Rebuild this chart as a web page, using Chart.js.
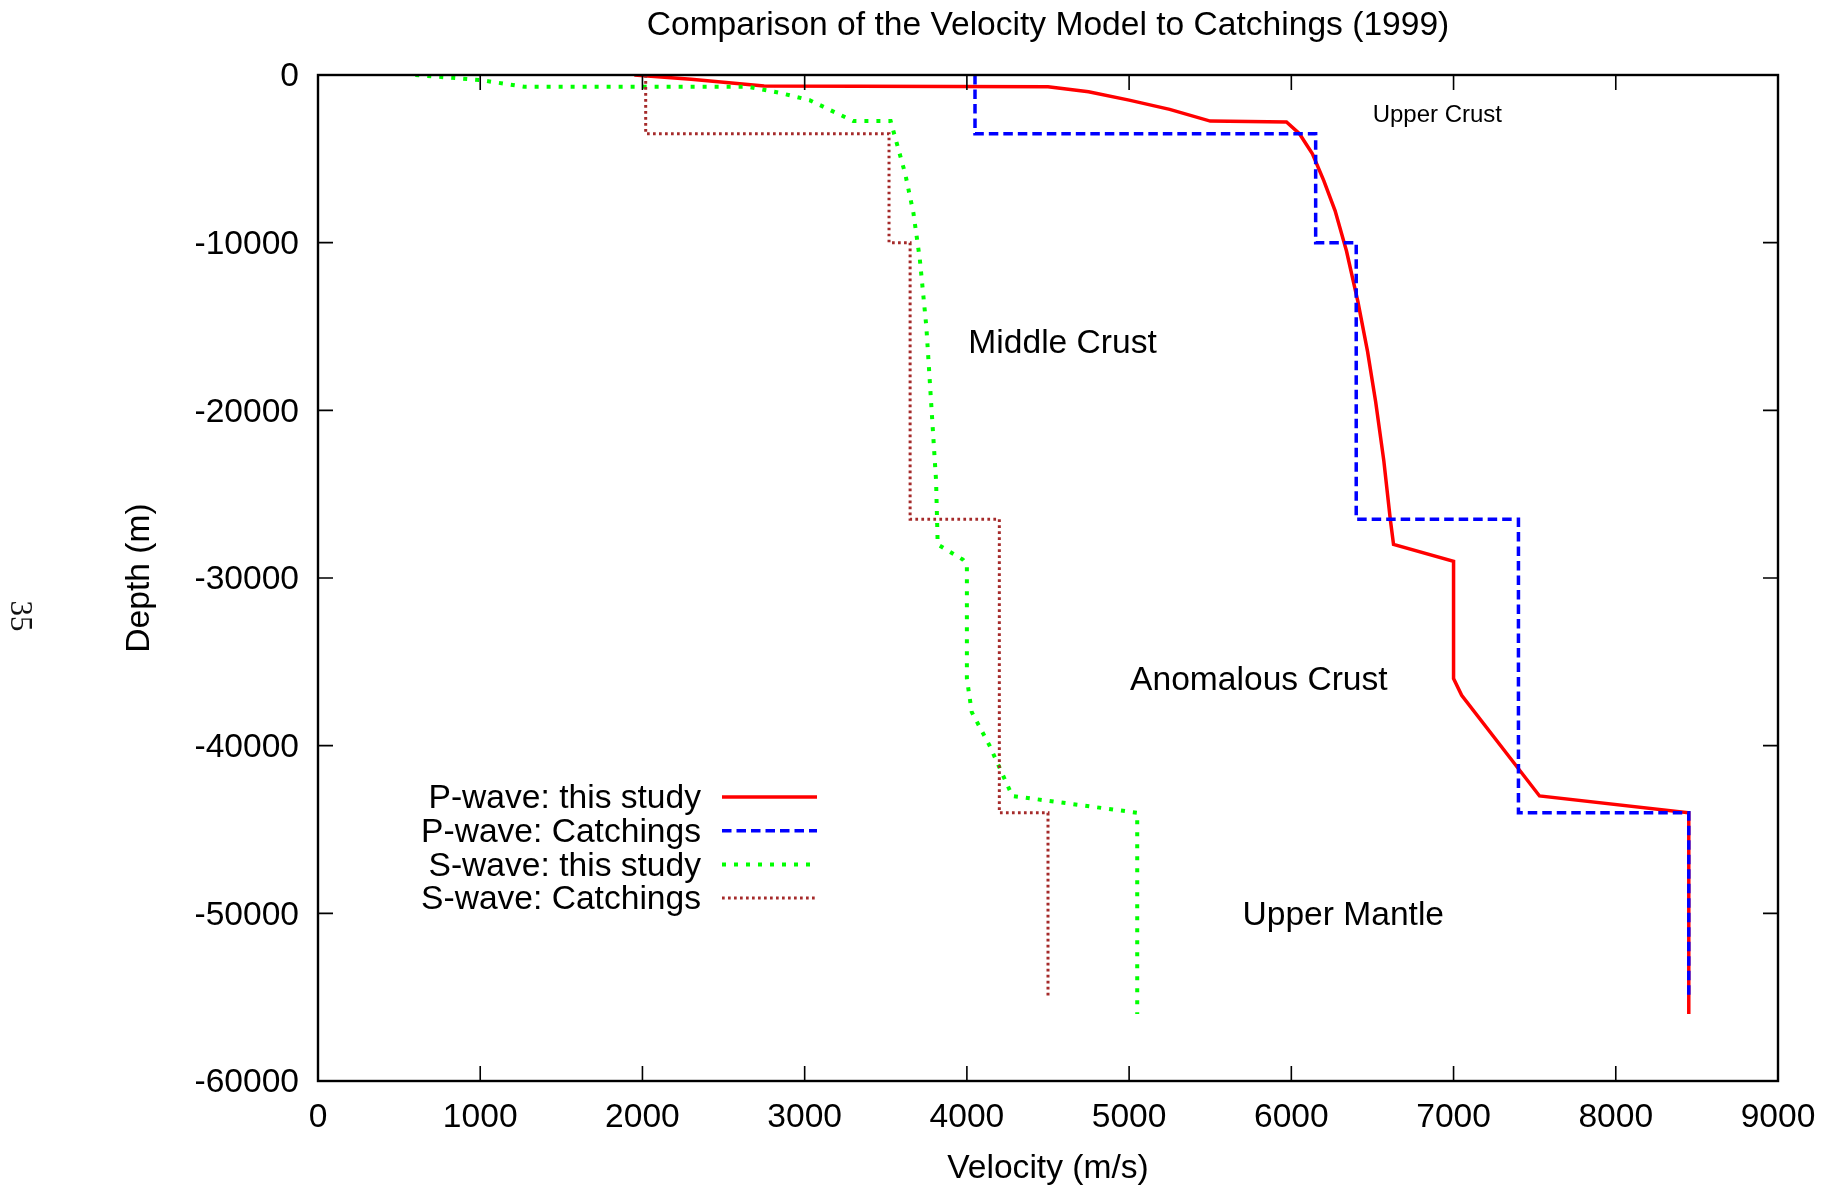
<!DOCTYPE html>
<html>
<head>
<meta charset="utf-8">
<title>Velocity Model vs Catchings (1999)</title>
<script src="https://cdn.jsdelivr.net/npm/chart.js@4.4.1/dist/chart.umd.min.js"></script>
<style>
  html, body { margin:0; padding:0; background:#fff; }
</style>
</head>
<body>
<canvas id="velC" width="1838" height="1189"></canvas>
<script>
// velocity (m/s) against depth (m) for each profile
const pStudyVel = [1950, 2300, 2750, 4500, 4750, 5000, 5250, 5500, 5970, 6050, 6130, 6200, 6270, 6340, 6410, 6470, 6520, 6570, 6610, 6630, 7000, 7000, 7050, 7530, 8450, 8450];
const pStudyDep = [0, -250, -650, -700, -1000, -1500, -2050, -2750, -2800, -3500, -4700, -6300, -8100, -10500, -13500, -16500, -19500, -23000, -26500, -28000, -29000, -36000, -37000, -43000, -44000, -56000];

const pCatchVel = [4050, 4050, 6150, 6150, 6400, 6400, 7400, 7400, 8450, 8450];
const pCatchDep = [0, -3500, -3500, -10000, -10000, -26500, -26500, -44000, -44000, -55000];

const sStudyVel = [600, 1000, 1270, 2650, 2840, 3030, 3300, 3530, 3620, 3670, 3710, 3750, 3780, 3810, 3820, 3975, 4000, 4000, 4030, 4140, 4210, 4280, 5050, 5050];
const sStudyDep = [0, -300, -700, -700, -1050, -1500, -2750, -2750, -5900, -8200, -11000, -15000, -19600, -24200, -28000, -28900, -29200, -36000, -38000, -40000, -41500, -43000, -44000, -56000];

const sCatchVel = [2020, 2020, 3520, 3520, 3650, 3650, 4200, 4200, 4500, 4500];
const sCatchDep = [0, -3500, -3500, -10000, -10000, -26500, -26500, -44000, -44000, -55000];

const seriesNames = ['P-wave: this study', 'P-wave: Catchings', 'S-wave: this study', 'S-wave: Catchings'];

// layer names and where they sit (velocity, depth)
const regionNames = ['Upper Crust', 'Middle Crust', 'Anomalous Crust', 'Upper Mantle'];
const regionVel = [6900, 4590, 5800, 6320];
const regionDep = [-2300, -15900, -36000, -50000];

const xTicks = [0, 1000, 2000, 3000, 4000, 5000, 6000, 7000, 8000, 9000];
const yTicks = [0, -10000, -20000, -30000, -40000, -50000, -60000];

const FONT = '"Liberation Sans", Arial, Helvetica, sans-serif';
const FS = 33.6;
const TICK = 15;

const pts = (vs, ds) => vs.map((v, i) => ({ x: v, y: ds[i] }));

function profile(label, vs, ds, color, dash, width, order) {
  return {
    label, data: pts(vs, ds), showLine: true, tension: 0,
    borderColor: color, backgroundColor: color, borderWidth: width,
    borderDash: dash, borderCapStyle: 'butt', borderJoinStyle: 'miter',
    pointRadius: 0, pointHoverRadius: 0, order
  };
}

// border box, inward ticks, title, layer labels, legend, page number
const decor = {
  id: 'decor',
  afterDatasetsDraw(chart) {
    const { ctx, chartArea: a, scales: { x, y } } = chart;
    ctx.save();
    ctx.strokeStyle = '#000';
    ctx.lineWidth = 1.6;
    ctx.beginPath();
    x.ticks.forEach(t => {
      const px = x.getPixelForValue(t.value);
      ctx.moveTo(px, a.bottom); ctx.lineTo(px, a.bottom - TICK);
      ctx.moveTo(px, a.top); ctx.lineTo(px, a.top + TICK);
    });
    y.ticks.forEach(t => {
      const py = y.getPixelForValue(t.value);
      ctx.moveTo(a.left, py); ctx.lineTo(a.left + TICK, py);
      ctx.moveTo(a.right, py); ctx.lineTo(a.right - TICK, py);
    });
    ctx.stroke();
    ctx.lineWidth = 2.4;
    ctx.strokeRect(a.left, a.top, a.right - a.left, a.bottom - a.top);

    ctx.fillStyle = '#000';
    ctx.textBaseline = 'middle';
    ctx.textAlign = 'center';
    ctx.font = FS + 'px ' + FONT;
    ctx.fillText('Comparison of the Velocity Model to Catchings (1999)', (a.left + a.right) / 2, 26);

    regionNames.forEach((name, i) => {
      ctx.font = (i === 0 ? '24px ' : FS + 'px ') + FONT;
      ctx.fillText(name, x.getPixelForValue(regionVel[i]), y.getPixelForValue(regionDep[i]) + 2);
    });

    // legend: text right-aligned, line sample to its right
    const lx = a.left + 383, ly = a.top + 722;
    chart.data.datasets.forEach((ds, i) => {
      const ry = ly + i * 33.7;
      ctx.font = FS + 'px ' + FONT;
      ctx.textAlign = 'right';
      ctx.fillStyle = '#000';
      ctx.fillText(ds.label, lx, ry + 2);
      ctx.beginPath();
      ctx.strokeStyle = ds.borderColor;
      ctx.lineWidth = ds.borderWidth;
      ctx.lineCap = 'butt';
      ctx.setLineDash(ds.borderDash);
      ctx.moveTo(lx + 21, ry);
      ctx.lineTo(lx + 116, ry);
      ctx.stroke();
      ctx.setLineDash([]);
    });

    // page number, turned on its side
    ctx.save();
    ctx.translate(19, 616);
    ctx.rotate(Math.PI / 2);
    ctx.font = '31px "Liberation Serif", "DejaVu Serif", serif';
    ctx.textAlign = 'center';
    ctx.fillStyle = '#111';
    ctx.fillText('35', 0, 0);
    ctx.restore();

    ctx.restore();
  }
};

Chart.defaults.font.family = FONT;
Chart.defaults.color = '#000';

new Chart(document.getElementById('velC'), {
  type: 'scatter',
  data: {
    datasets: [
      profile(seriesNames[0], pStudyVel, pStudyDep, '#ff0000', [], 3.5, 4),
      profile(seriesNames[1], pCatchVel, pCatchDep, '#0000ff', [9.5, 5], 3.5, 3),
      profile(seriesNames[2], sStudyVel, sStudyDep, '#00ff00', [4, 8], 4, 2),
      profile(seriesNames[3], sCatchVel, sCatchDep, '#a52a2a', [2.7, 3.3], 3, 1)
    ]
  },
  options: {
    responsive: false, animation: false, devicePixelRatio: 1,
    layout: { padding: { top: 75, right: 60, left: 0, bottom: 0 } },
    plugins: { legend: { display: false }, title: { display: false }, tooltip: { enabled: false } },
    scales: {
      x: {
        type: 'linear', min: 0, max: 9000,
        afterBuildTicks: s => { s.ticks = xTicks.map(v => ({ value: v })); },
        afterFit: s => { s.height = 108; },
        grid: { display: false, drawTicks: false },
        border: { display: false },
        ticks: { font: { size: FS }, padding: 17, maxRotation: 0, autoSkip: false, callback: v => String(v) },
        title: { display: true, text: 'Velocity (m/s)', font: { size: FS }, padding: { bottom: 0 } }
      },
      y: {
        type: 'linear', min: -60000, max: 0,
        afterBuildTicks: s => { s.ticks = yTicks.map(v => ({ value: v })); },
        afterFit: s => { s.width = 318; },
        grid: { display: false, drawTicks: false },
        border: { display: false },
        ticks: { font: { size: FS }, padding: 19, labelOffset: 2, autoSkip: false, callback: v => String(v) },
        title: { display: true, text: 'Depth (m)', font: { size: FS }, padding: { top: 120 } }
      }
    }
  },
  plugins: [decor]
});
</script>
</body>
</html>
